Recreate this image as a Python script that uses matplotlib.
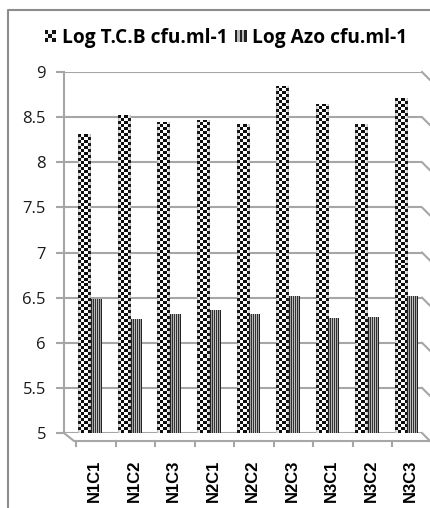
import numpy as np
import matplotlib
matplotlib.use("Agg")
import matplotlib.pyplot as plt
from matplotlib.patches import Patch, Rectangle
from matplotlib.legend_handler import HandlerBase

categories = ["N1C1", "N1C2", "N1C3", "N2C1", "N2C2", "N2C3", "N3C1", "N3C2", "N3C3"]
tcb = [8.31, 8.52, 8.45, 8.47, 8.42, 8.85, 8.65, 8.42, 8.71]
azo = [6.48, 6.26, 6.32, 6.36, 6.32, 6.52, 6.27, 6.29, 6.52]
yticks = [5, 5.5, 6, 6.5, 7, 7.5, 8, 8.5, 9]
ytick_labels = ["5", "5.5", "6", "6.5", "7", "7.5", "8", "8.5", "9"]
series_names = ["Log T.C.B cfu.ml-1", "Log Azo cfu.ml-1"]

W, H = 430, 508
fig = plt.figure(figsize=(W / 100, H / 100), dpi=100)

x0, x1 = 64, 422
yb, yt = 433, 72
ax = fig.add_axes([x0 / W, (H - yb) / H, (x1 - x0) / W, (yb - yt) / H])
ax.set_xlim(-0.671, 8.392)
ax.set_ylim(5, 9)
ax.set_yticks(yticks)
ax.set_yticklabels(ytick_labels, fontsize=12, family="Open Sans", color="#1a1a1a")
ax.yaxis.grid(True, color="#A6A6A6", linewidth=1.5)
ax.set_axisbelow(True)
for s in ["top", "right", "bottom"]:
    ax.spines[s].set_visible(False)
ax.spines["left"].set_color("#A6A6A6")
ax.spines["left"].set_linewidth(1.5)
ax.tick_params(axis="y", length=6, color="#A6A6A6", width=1.5, pad=7)
ax.set_xticks(np.arange(len(categories)) + 0.11)
ax.set_xticklabels(categories, rotation=90, fontsize=12, family="Liberation Sans",
                   fontweight="bold")
ax.tick_params(axis="x", length=0, pad=19)

x = np.arange(len(categories))
w1, w2 = 0.304, 0.278
bars1 = ax.bar(x - 0.152, np.array(tcb) - 5, width=w1, bottom=5, facecolor="none",
               edgecolor="none", zorder=3)
bars2 = ax.bar(x + 0.152, np.array(azo) - 5, width=w2, bottom=5, facecolor="none",
               edgecolor="none", zorder=3)

px_per_y = (yb - yt) / 4.0


def shade(ncols):
    t = np.linspace(-1, 1, ncols)
    return 0.55 + 0.45 * np.sqrt(np.clip(1 - (t * 0.95) ** 2, 0, 1))


for b in bars1:
    xl, yl = b.get_x(), b.get_y()
    bw, bh = b.get_width(), b.get_height()
    nrows = max(1, int(round(bh * px_per_y / 3.0)))
    ncols = 4
    cb = (np.indices((nrows, ncols)).sum(axis=0) % 2).astype(float)
    img = np.where(cb > 0, 1.0, 0.05)
    sh = shade(ncols * 6)
    big = np.repeat(img, 6, axis=1) * sh[None, :]
    big = np.clip(big + (1 - sh[None, :]) * 0.25, 0, 1)
    im = ax.imshow(big, cmap="gray", vmin=0, vmax=1, extent=(xl, xl + bw, yl, yl + bh),
                   aspect="auto", interpolation="nearest", zorder=3)
    im.set_clip_path(b)

for b in bars2:
    xl, yl = b.get_x(), b.get_y()
    bw, bh = b.get_width(), b.get_height()
    ncols = 11
    stripes = np.array([0.2 if i % 2 == 0 else 0.75 for i in range(ncols)])
    sh = shade(ncols)
    row = stripes * sh
    big = np.tile(row, (2, 1))
    im = ax.imshow(big, cmap="gray", vmin=0, vmax=1, extent=(xl, xl + bw, yl, yl + bh),
                   aspect="auto", interpolation="nearest", zorder=3)
    im.set_clip_path(b)

ax.set_xlim(-0.671, 8.392)
ax.set_ylim(5, 9)

ov = fig.add_axes([0, 0, 1, 1], facecolor="none")
ov.set_xlim(0, W)
ov.set_ylim(H, 0)
ov.axis("off")
gc = "#A6A6A6"
ov.plot([8, 8, W], [H, 10, 10], color="#8C8C8C", lw=1.5)
ov.plot([x0, 74, W], [yb, 441, 441], color=gc, lw=1.5)
for k in range(10):
    xp = 76 + 39.5 * k
    if xp < W:
        ov.plot([xp, xp], [441, 446], color=gc, lw=1.5)
for v in yticks:
    yp = yb - (v - 5) * px_per_y
    ov.plot([x1, W], [yp, yp + 8], color=gc, lw=1.5)


class CheckerHandler(HandlerBase):
    def create_artists(self, legend, orig_handle, xdescent, ydescent, width, height,
                       fontsize, trans):
        s = min(width, height)
        n = 3
        c = s / n
        arts = []
        x0_ = -xdescent + (width - s) / 2
        y0_ = -ydescent + (height - s) / 2
        for i in range(n):
            for j in range(n):
                col = "#111111" if (i + j) % 2 == 0 else "#f2f2f2"
                arts.append(Rectangle((x0_ + i * c, y0_ + j * c), c, c, facecolor=col,
                                      edgecolor="none", transform=trans))
        return arts


class StripeHandler(HandlerBase):
    def create_artists(self, legend, orig_handle, xdescent, ydescent, width, height,
                       fontsize, trans):
        s = min(width, height)
        n = 5
        c = s / n
        arts = []
        x0_ = -xdescent + (width - s) / 2
        y0_ = -ydescent + (height - s) / 2
        for i in range(n):
            col = "#222222" if i % 2 == 0 else "#bbbbbb"
            arts.append(Rectangle((x0_ + i * c, y0_), c, s, facecolor=col,
                                  edgecolor="none", transform=trans))
        return arts


h1 = Patch(facecolor="white", label=series_names[0])
h2 = Patch(facecolor="grey", label=series_names[1])
leg = fig.legend([h1, h2], series_names, loc="center", bbox_to_anchor=(226 / W, 1 - 38 / H),
                 ncol=2, frameon=False,
                 prop={"family": "Open Sans", "weight": "bold", "size": 13.8},
                 handlelength=0.6, handleheight=0.6, handletextpad=0.3, columnspacing=0.4,
                 handler_map={h1: CheckerHandler(), h2: StripeHandler()})

fig.savefig("out.png", dpi=100)
